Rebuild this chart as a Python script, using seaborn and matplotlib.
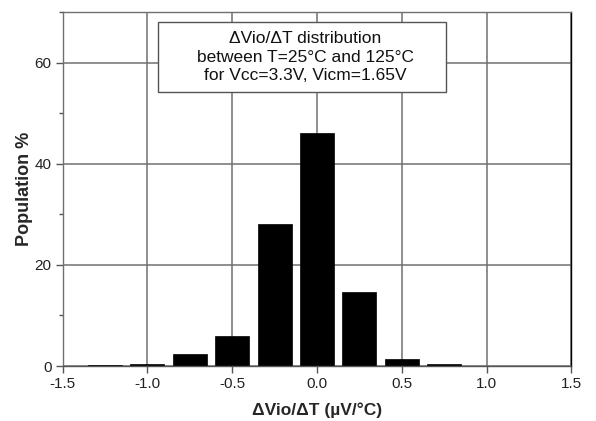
import matplotlib
matplotlib.use("Agg")
import matplotlib.pyplot as plt
from matplotlib.patches import Rectangle
from matplotlib.ticker import MultipleLocator
import seaborn as sns
import pandas as pd

# Histogram bins (bin centres in µV/°C) and population share in %
bin_centers = [-1.25, -1.0, -0.75, -0.5, -0.25, 0.0, 0.25, 0.5, 0.75]
population = [0.2, 0.4, 2.3, 5.9, 28.0, 46.0, 14.6, 1.3, 0.4]

x_ticks = [-1.5, -1.0, -0.5, 0.0, 0.5, 1.0, 1.5]
y_ticks = [0, 20, 40, 60]

sns.set_theme(style="white")
plt.rcParams["font.family"] = ["Liberation Sans", "DejaVu Sans"]

df = pd.DataFrame({"drift": bin_centers, "pop": population})

fig = plt.figure(figsize=(5.96, 4.21), dpi=100)
ax = fig.add_axes([0.105, 0.1306, 0.8536, 0.8409])

ax.set_axisbelow(True)
ax.grid(True, which="major", color="#707070", linewidth=1.1)

sns.barplot(data=df, x="drift", y="pop", native_scale=True, width=0.8,
            color="black", saturation=1, edgecolor="black", linewidth=0.5, ax=ax)

ax.set_xlim(-1.5, 1.5)
ax.set_ylim(0, 70)
ax.set_xticks(x_ticks)
ax.set_xticklabels([f"{t:.1f}" for t in x_ticks])
ax.set_yticks(y_ticks)
ax.yaxis.set_minor_locator(MultipleLocator(10))

for s in ax.spines.values():
    s.set_visible(True)
    s.set_color("black")
    s.set_linewidth(1.0)
ax.spines["top"].set_color("#707070")
ax.spines["left"].set_color("#707070")
ax.spines["bottom"].set_color("#555555")

ax.tick_params(axis="both", which="major", direction="out", length=5, width=1,
               color="#555555", labelsize=11, pad=3, labelcolor="#222222")
ax.tick_params(axis="y", which="minor", direction="out", length=3, width=1,
               color="#555555")
ax.tick_params(axis="x", which="both", bottom=True, top=False)
ax.tick_params(axis="y", which="both", left=True, right=False)

ax.set_xlabel("ΔVio/ΔT (µV/°C)", fontsize=12.5, fontweight="bold", labelpad=8)
ax.set_ylabel("Population %", fontsize=13, fontweight="bold", labelpad=1)

# Caption box in data coordinates
ax.add_patch(Rectangle((-0.94, 54.1), 1.70, 13.9, facecolor="white",
                       edgecolor="#555555", linewidth=1.0, zorder=3))
ax.text(-0.07, 61.1,
        "ΔVio/ΔT distribution\nbetween T=25°C and 125°C\nfor Vcc=3.3V, Vicm=1.65V",
        ha="center", va="center", fontsize=12.5, linespacing=1.3,
        color="#111111", zorder=4)

fig.savefig("out.png", dpi=100)
